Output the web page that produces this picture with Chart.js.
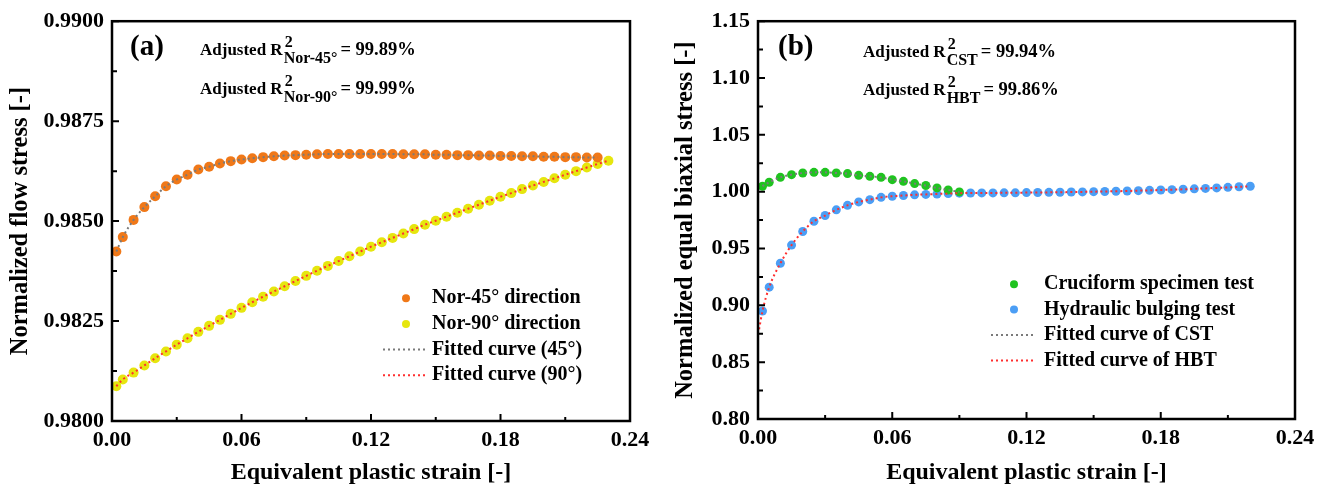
<!DOCTYPE html>
<html>
<head>
<meta charset="utf-8">
<script src="https://cdn.jsdelivr.net/npm/chart.js@4.4.0/dist/chart.umd.min.js"></script>
<style>
body { margin: 0; background: #fff; }
#wrap { position: relative; width: 1328px; height: 489px; }
canvas { position: absolute; top: 0; }
</style>
</head>
<body>
<div id="wrap">
  <canvas id="chartA" width="660" height="489" style="left:0"></canvas>
  <canvas id="chartB" width="664" height="489" style="left:664px"></canvas>
</div>
<script>
// panel (a) data
const strainA = [0.002, 0.005, 0.010, 0.015, 0.020, 0.025, 0.030, 0.035, 0.040, 0.045,
  0.050, 0.055, 0.060, 0.065, 0.070, 0.075, 0.080, 0.085, 0.090, 0.095,
  0.100, 0.105, 0.110, 0.115, 0.120, 0.125, 0.130, 0.135, 0.140, 0.145,
  0.150, 0.155, 0.160, 0.165, 0.170, 0.175, 0.180, 0.185, 0.190, 0.195,
  0.200, 0.205, 0.210, 0.215, 0.220, 0.225, 0.230];
const nor45 = [0.98424, 0.98460, 0.98503, 0.98535, 0.98562, 0.98587, 0.98604, 0.98616, 0.98629, 0.98636,
  0.98644, 0.98650, 0.98654, 0.98657, 0.98660, 0.98662, 0.98664, 0.98665, 0.98666, 0.98667,
  0.98668, 0.98668, 0.98668, 0.98668, 0.98668, 0.98668, 0.98668, 0.98667, 0.98667, 0.98667,
  0.98666, 0.98666, 0.98665, 0.98665, 0.98664, 0.98664, 0.98663, 0.98663, 0.98662, 0.98662,
  0.98661, 0.98661, 0.98660, 0.98660, 0.98659, 0.98659];
const nor90 = [0.98087, 0.98104, 0.98121, 0.98139, 0.98157, 0.98174, 0.98191, 0.98207, 0.98223, 0.98238,
  0.98253, 0.98268, 0.98283, 0.98297, 0.98311, 0.98324, 0.98337, 0.98350, 0.98363, 0.98376,
  0.98388, 0.98400, 0.98412, 0.98424, 0.98436, 0.98447, 0.98458, 0.98469, 0.98480, 0.98491,
  0.98501, 0.98511, 0.98521, 0.98531, 0.98541, 0.98551, 0.98561, 0.98570, 0.98580, 0.98589,
  0.98598, 0.98607, 0.98616, 0.98625, 0.98634, 0.98643, 0.98651];

// panel (b) data
const strainB = [0.002, 0.005, 0.010, 0.015, 0.020, 0.025, 0.030, 0.035, 0.040, 0.045,
  0.050, 0.055, 0.060, 0.065, 0.070, 0.075, 0.080, 0.085, 0.090, 0.095,
  0.100, 0.105, 0.110, 0.115, 0.120, 0.125, 0.130, 0.135, 0.140, 0.145,
  0.150, 0.155, 0.160, 0.165, 0.170, 0.175, 0.180, 0.185, 0.190, 0.195,
  0.200, 0.205, 0.210, 0.215, 0.220];
const cst = [1.0048, 1.0083, 1.0126, 1.0150, 1.0164, 1.0170, 1.0170, 1.0164, 1.0159, 1.0144,
  1.0135, 1.0126, 1.0106, 1.0091, 1.0071, 1.0054, 1.0033, 1.0015, 0.9998];
const hbt = [0.895, 0.916, 0.937, 0.953, 0.965, 0.974, 0.979, 0.984, 0.988, 0.991,
  0.993, 0.995, 0.996, 0.9966, 0.9972, 0.9976, 0.9980, 0.9983, 0.9987, 0.9988,
  0.9989, 0.9989, 0.9990, 0.9990, 0.9992, 0.9993, 0.9994, 0.9995, 0.9997, 0.9998,
  1.0000, 1.0002, 1.0004, 1.0006, 1.0009, 1.0012, 1.0015, 1.0018, 1.0021, 1.0025,
  1.0029, 1.0033, 1.0038, 1.0043, 1.0048];
const hbtFitStartX = [0.0005];
const hbtFitStartY = [0.879];

// tick labels
const xTicks = [0, 0.06, 0.12, 0.18, 0.24];
const yTicksA = [0.98, 0.9825, 0.985, 0.9875, 0.99];
const yTicksB = [0.80, 0.85, 0.90, 0.95, 1.00, 1.05, 1.10, 1.15];

const FONT = '"Liberation Serif", "Times New Roman", serif';
const ORANGE = '#f07818', YELLOW = '#e6e60e', GREEN = '#1fc31f', BLUE = '#4b9ef5';
const GRAY = '#7a7a7a', RED = '#ff2f2f';

const pts = (xs, ys) => ys.map((y, i) => ({ x: xs[i], y: y }));

// frame, inward ticks, notes and legend
const decor = {
  id: 'decor',
  afterDraw(chart, args, opts) {
    const ctx = chart.ctx, a = chart.chartArea;
    const xs = chart.scales.x, ys = chart.scales.y;
    ctx.save();
    ctx.strokeStyle = '#000';
    ctx.lineWidth = 2.5;
    ctx.strokeRect(a.left, a.top, a.right - a.left, a.bottom - a.top);
    ctx.lineWidth = 2;
    ctx.beginPath();
    xs.ticks.forEach((t, i) => {
      const p = xs.getPixelForValue(t.value);
      ctx.moveTo(p, a.bottom); ctx.lineTo(p, a.bottom - 7);
      if (i < xs.ticks.length - 1) {
        const m = xs.getPixelForValue((t.value + xs.ticks[i + 1].value) / 2);
        ctx.moveTo(m, a.bottom); ctx.lineTo(m, a.bottom - 4);
      }
    });
    ys.ticks.forEach((t, i) => {
      const p = ys.getPixelForValue(t.value);
      ctx.moveTo(a.left, p); ctx.lineTo(a.left + 7, p);
      if (i < ys.ticks.length - 1) {
        const m = ys.getPixelForValue((t.value + ys.ticks[i + 1].value) / 2);
        ctx.moveTo(a.left, m); ctx.lineTo(a.left + 5, m);
      }
    });
    ctx.stroke();

    ctx.fillStyle = '#000';
    ctx.textBaseline = 'middle';
    ctx.font = 'bold 29px ' + FONT;
    ctx.fillText(opts.tag, a.left + opts.tagX, a.top + 26);

    ctx.textBaseline = 'alphabetic';
    opts.notes.forEach(n => {
      let x = a.left + opts.noteX, y = a.top + n.dy;
      ctx.font = 'bold 17px ' + FONT;
      ctx.fillText('Adjusted R', x, y);
      x += ctx.measureText('Adjusted R').width + 1;
      ctx.font = 'bold 16px ' + FONT;
      ctx.fillText('2', x + 1, y - 8);
      ctx.fillText(n.sub, x, y + 8);
      x += ctx.measureText(n.sub).width + 3;
      ctx.font = 'bold 18.5px ' + FONT;
      ctx.fillText('= ' + n.val, x, y);
    });

    const L = opts.legend;
    ctx.font = 'bold 20px ' + FONT;
    ctx.textBaseline = 'middle';
    chart.data.datasets.forEach((ds, i) => {
      const y = a.top + L.y0 + i * L.gap;
      if (ds.type === 'line') {
        ctx.strokeStyle = ds.borderColor;
        ctx.lineWidth = 2;
        ctx.setLineDash(ds.borderDash);
        ctx.beginPath();
        ctx.moveTo(a.left + L.lineX0, y); ctx.lineTo(a.left + L.lineX1, y);
        ctx.stroke();
        ctx.setLineDash([]);
      } else {
        ctx.fillStyle = ds.backgroundColor;
        ctx.beginPath();
        ctx.arc(a.left + L.dotX, y, 4, 0, Math.PI * 2);
        ctx.fill();
      }
      ctx.fillStyle = '#000';
      ctx.fillText(ds.label, a.left + L.textX, y);
    });
    ctx.restore();
  }
};

function scales(yTicks, yMin, yMax, digits, yTitle, yWidth, xHeight, yPad) {
  return {
    x: {
      type: 'linear', min: 0, max: 0.24,
      afterBuildTicks: s => { s.ticks = xTicks.map(v => ({ value: v })); },
      afterFit: s => { s.height = xHeight; },
      grid: { display: false, drawTicks: false },
      border: { display: false },
      ticks: { padding: 6, color: '#000', font: { family: FONT, size: 22, weight: 'bold' },
        callback: v => v.toFixed(2) },
      title: { display: true, text: 'Equivalent plastic strain [-]', color: '#000',
        padding: { top: 0, bottom: 2 }, font: { family: FONT, size: 24, weight: 'bold' } }
    },
    y: {
      type: 'linear', min: yMin, max: yMax,
      afterBuildTicks: s => { s.ticks = yTicks.map(v => ({ value: v })); },
      afterFit: s => { s.width = yWidth; },
      grid: { display: false, drawTicks: false },
      border: { display: false },
      ticks: { padding: 8, color: '#000', font: { family: FONT, size: 22, weight: 'bold' },
        callback: v => v.toFixed(digits) },
      title: { display: true, text: yTitle, color: '#000',
        padding: { top: yPad, bottom: 0 }, font: { family: FONT, size: 24.5, weight: 'bold' } }
    }
  };
}

const pointSet = (label, data, color, r) => ({ label: label, data: data, backgroundColor: color,
  pointRadius: r, pointBorderWidth: 0, order: 1, clip: false });
const fitSet = (label, data, color) => ({ type: 'line', label: label, data: data, borderColor: color,
  borderWidth: 2, borderDash: [2, 3], pointRadius: 0, fill: false,
  cubicInterpolationMode: 'monotone', order: 0 });

new Chart(document.getElementById('chartA'), {
  type: 'scatter',
  data: {
    datasets: [
      pointSet('Nor-45° direction', pts(strainA, nor45), ORANGE, 5),
      pointSet('Nor-90° direction', pts(strainA, nor90), YELLOW, 5),
      fitSet('Fitted curve (45°)', pts(strainA, nor45), GRAY),
      fitSet('Fitted curve (90°)', pts(strainA, nor90), RED)
    ]
  },
  options: {
    responsive: false, animation: false, events: [],
    layout: { padding: { top: 19, right: 30, left: 0, bottom: 0 } },
    scales: scales(yTicksA, 0.98, 0.99, 4, 'Normalized flow stress [-]', 112, 68, 6),
    plugins: {
      legend: { display: false }, tooltip: { enabled: false },
      decor: {
        tag: '(a)', tagX: 18, noteX: 88,
        notes: [{ dy: 34, sub: 'Nor-45°', val: '99.89%' }, { dy: 73, sub: 'Nor-90°', val: '99.99%' }],
        legend: { y0: 277, gap: 25.7, dotX: 294, lineX0: 271, lineX1: 315, textX: 320 }
      }
    }
  },
  plugins: [decor]
});

new Chart(document.getElementById('chartB'), {
  type: 'scatter',
  data: {
    datasets: [
      pointSet('Cruciform specimen test', pts(strainB, cst), GREEN, 4.5),
      pointSet('Hydraulic bulging test', pts(strainB, hbt), BLUE, 4.5),
      fitSet('Fitted curve of CST', pts(strainB, cst), GRAY),
      fitSet('Fitted curve of HBT', pts(hbtFitStartX, hbtFitStartY).concat(pts(strainB, hbt)), RED)
    ]
  },
  options: {
    responsive: false, animation: false, events: [],
    layout: { padding: { top: 19, right: 33, left: 0, bottom: 0 } },
    scales: scales(yTicksB, 0.8, 1.15, 2, 'Normalized equal biaxial stress [-]', 94, 70, 7),
    plugins: {
      legend: { display: false }, tooltip: { enabled: false },
      decor: {
        tag: '(b)', tagX: 20, noteX: 105,
        notes: [{ dy: 36, sub: 'CST', val: '99.94%' }, { dy: 74, sub: 'HBT', val: '99.86%' }],
        legend: { y0: 263, gap: 25.4, dotX: 256, lineX0: 233, lineX1: 275, textX: 286 }
      }
    }
  },
  plugins: [decor]
});
</script>
</body>
</html>
